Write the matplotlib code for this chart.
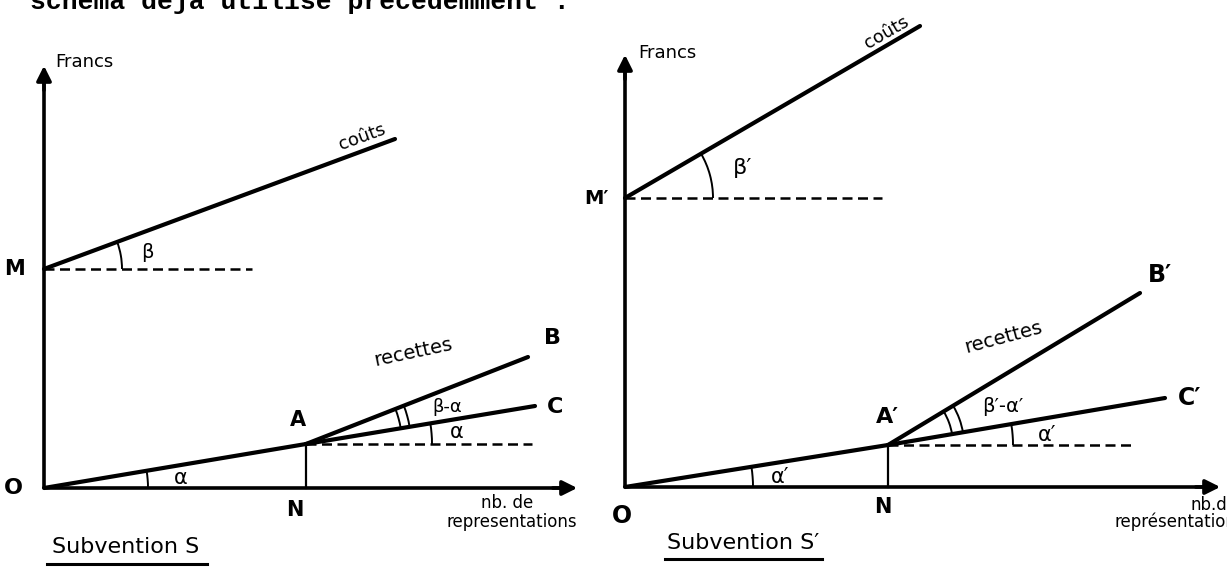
import matplotlib
matplotlib.use('Agg')

import numpy as np
import matplotlib.pyplot as plt
from matplotlib.patches import Arc

# ── Données du schéma (unités = px, origine au point O de chaque graphique) ──
ENTETE = "schema deja utilise precedemment :"

# graphique de gauche : subvention S
ORIG_G = (44, 79)
M_G = (0, 219)          # coûts fixes
COUTS_FIN_G = (351, 349)
M_TIRETS_FIN_G = 208
A_G = (262, 44)         # point A (N en abscisse)
B_G = (484, 131)
C_G = (491, 82)
A_TIRETS_FIN_G = 488
AXE_X_G = 536
AXE_Y_G = 425

# graphique de droite : subvention S'
ORIG_D = (625, 80)
M_D = (0, 289)
COUTS_FIN_D = (295, 461)
M_TIRETS_FIN_D = 257
A_D = (263, 42)
B_D = (515, 194)
C_D = (540, 89)
A_TIRETS_FIN_D = 508
AXE_X_D = 598
AXE_Y_D = 435

fig = plt.figure(figsize=(12.27, 5.67), dpi=100)
ax = fig.add_axes([0, 0, 1, 1])
ax.set_xlim(0, 1227)
ax.set_ylim(0, 567)
ax.axis('off')

MAIN = 'DejaVu Sans'


def angle(p, q):
    return np.degrees(np.arctan2(q[1] - p[1], q[0] - p[0]))


def dessiner(orig, M, couts_fin, m_tirets, A, B, C, a_tirets, axe_x, axe_y):
    ox, oy = orig

    def P(pt):
        return (ox + pt[0], oy + pt[1])

    # axes avec flèches
    ax.plot([ox, ox], [oy, oy + axe_y - 14], color='k', lw=2.6, solid_capstyle='butt')
    ax.annotate('', xy=(ox, oy + axe_y), xytext=(ox, oy + axe_y - 30),
                arrowprops=dict(arrowstyle='-|>', lw=2.6, color='k', mutation_scale=22))
    ax.plot([ox, ox + axe_x - 14], [oy, oy], color='k', lw=2.6, solid_capstyle='butt')
    ax.annotate('', xy=(ox + axe_x, oy), xytext=(ox + axe_x - 30, oy),
                arrowprops=dict(arrowstyle='-|>', lw=2.6, color='k', mutation_scale=22))

    # droite des coûts
    pm, pc = P(M), P(couts_fin)
    ax.plot([pm[0], pc[0]], [pm[1], pc[1]], color='k', lw=3.0, solid_capstyle='round')
    ax.plot([pm[0], ox + m_tirets], [pm[1], pm[1]], color='k', lw=1.8,
            linestyle=(0, (4, 2.2)))

    # recettes : O -> A -> B, et prolongement A -> C
    po, pa, pb, pcc = P((0, 0)), P(A), P(B), P(C)
    ax.plot([po[0], pa[0]], [po[1], pa[1]], color='k', lw=3.0, solid_capstyle='round')
    ax.plot([pa[0], pb[0]], [pa[1], pb[1]], color='k', lw=3.0, solid_capstyle='round')
    ax.plot([pa[0], pcc[0]], [pa[1], pcc[1]], color='k', lw=3.0, solid_capstyle='round')
    ax.plot([pa[0], ox + a_tirets], [pa[1], pa[1]], color='k', lw=1.8,
            linestyle=(0, (4, 2.2)))
    ax.plot([pa[0], pa[0]], [pa[1], oy], color='k', lw=1.6)

    a_alpha = angle((0, 0), A)
    a_beta = angle(M, couts_fin)
    a_b = angle(A, B)
    return po, pm, pa, a_alpha, a_beta, a_b


def arc(centre, r, t1, t2, lw=1.4):
    ax.add_patch(Arc(centre, 2 * r, 2 * r, theta1=t1, theta2=t2, color='k', lw=lw))


txt = dict(family=MAIN, color='k', ha='center', va='center')
lettre = dict(txt, fontweight='bold')

# ── graphique de gauche ──
po, pm, pa, al, be, ab = dessiner(ORIG_G, M_G, COUTS_FIN_G, M_TIRETS_FIN_G, A_G, B_G, C_G,
                                  A_TIRETS_FIN_G, AXE_X_G, AXE_Y_G)
arc(pm, 78, 0, be)
arc(po, 104, 0, al)
arc(pa, 126, 0, al)
arc(pa, 96, al, ab)
arc(pa, 105, al, ab)

ox, oy = ORIG_G
ax.text(ox + 11, oy + 426, "Francs", fontsize=13, ha='left', va='center', family=MAIN)
ax.text(ox - 30, oy + 219, "M", fontsize=15, **lettre)
ax.text(ox + 318, oy + 351, "coûts", fontsize=13, rotation=20, **txt)
ax.text(ox + 103, oy + 235, "β", fontsize=14, **txt)
ax.text(ox - 31, oy, "O", fontsize=16, **lettre)
ax.text(ox + 137, oy + 10, "α", fontsize=15, **txt)
ax.text(ox + 251, oy - 22, "N", fontsize=15, **lettre)
ax.text(ox + 254, oy + 68, "A", fontsize=15, **lettre)
ax.text(ox + 369, oy + 136, "recettes", fontsize=14, rotation=12, **txt)
ax.text(ox + 508, oy + 150, "B", fontsize=16, **lettre)
ax.text(ox + 511, oy + 81, "C", fontsize=16, **lettre)
ax.text(ox + 403, oy + 81, "β-α", fontsize=13, **txt)
ax.text(ox + 413, oy + 56, "α", fontsize=15, **txt)
ax.text(ox + 463, oy - 15, "nb. de", fontsize=12, **txt)
ax.text(ox + 468, oy - 34, "representations", fontsize=12, **txt)
ax.text(ox + 82, oy - 59, "Subvention S", fontsize=16, **txt)
ax.plot([ox + 3, ox + 163], [oy - 76, oy - 76], color='k', lw=2.2)

# ── graphique de droite ──
po, pm, pa, al, be, ab = dessiner(ORIG_D, M_D, COUTS_FIN_D, M_TIRETS_FIN_D, A_D, B_D, C_D,
                                  A_TIRETS_FIN_D, AXE_X_D, AXE_Y_D)
arc(pm, 88, 0, be)
arc(po, 128, 0, al)
arc(pa, 125, 0, al)
arc(pa, 65, al, ab)
arc(pa, 76, al, ab)

ox, oy = ORIG_D
ax.text(ox + 13, oy + 434, "Francs", fontsize=13, ha='left', va='center', family=MAIN)
ax.text(ox - 29, oy + 289, "M′", fontsize=14, **lettre)
ax.text(ox + 262, oy + 454, "coûts", fontsize=13, rotation=30, **txt)
ax.text(ox + 118, oy + 319, "β′", fontsize=16, **txt)
ax.text(ox - 3, oy - 29, "O", fontsize=17, **lettre)
ax.text(ox + 155, oy + 10, "α′", fontsize=15, **txt)
ax.text(ox + 258, oy - 20, "N", fontsize=15, **lettre)
ax.text(ox + 262, oy + 70, "A′", fontsize=16, **lettre)
ax.text(ox + 378, oy + 150, "recettes", fontsize=14, rotation=15, **txt)
ax.text(ox + 535, oy + 212, "B′", fontsize=17, **lettre)
ax.text(ox + 565, oy + 89, "C′", fontsize=17, **lettre)
ax.text(ox + 378, oy + 80, "β′-α′", fontsize=14, **txt)
ax.text(ox + 422, oy + 52, "α′", fontsize=15, **txt)
ax.text(ox + 565, oy - 18, "nb.de", fontsize=12, ha='left', va='center', family=MAIN)
ax.text(ox + 490, oy - 35, "représentations", fontsize=12, ha='left', va='center', family=MAIN)
ax.text(ox + 118, oy - 56, "Subvention S′", fontsize=16, **txt)
ax.plot([ox + 40, ox + 197], [oy - 72, oy - 72], color='k', lw=2.2)

# ── ligne dactylographiée en haut (coupée par le bord) ──
ax.text(30, 558, ENTETE, family='Liberation Mono', fontweight='bold', fontsize=19,
        ha='left', va='baseline', color='k')

fig.savefig('out.png', dpi=100, facecolor='white')
